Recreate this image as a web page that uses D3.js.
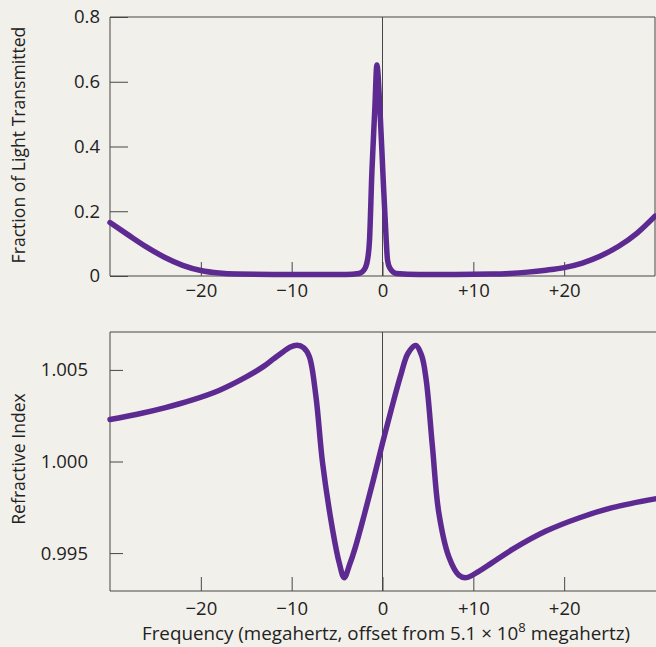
<!DOCTYPE html>
<html>
<head>
<meta charset="utf-8">
<style>
body { margin: 0; background: #f2f0ea; }
svg { display: block; }
text { font-family: "Open Sans", "Noto Sans", sans-serif; fill: #222; }
</style>
</head>
<body>
<svg width="656" height="647"></svg>
<script src="https://cdn.jsdelivr.net/npm/d3@7"></script>
<script>
// transmission (top panel)
var freq_top = [-30, -28, -26, -24, -22, -20, -18, -16, -12, -8, -4, -2.6, -2.0, -1.65, -1.43, -1.17, -0.84, -0.62, -0.29, 0.04, 0.41, 0.55, 0.8, 1.5, 4, 8, 12, 14, 16, 18, 20, 22, 24, 26, 28, 30];
var trans = [0.165, 0.127, 0.090, 0.058, 0.033, 0.017, 0.009, 0.006, 0.005, 0.005, 0.005, 0.008, 0.02, 0.05, 0.11, 0.32, 0.52, 0.652, 0.52, 0.32, 0.11, 0.05, 0.025, 0.008, 0.005, 0.005, 0.006, 0.008, 0.012, 0.018, 0.026, 0.040, 0.062, 0.092, 0.132, 0.185];

// refractive index (bottom panel)
var freq_bottom = [-30, -27, -24, -21, -18, -15, -13, -12, -11, -10.2, -9.4, -8.7, -8.07, -7.33, -6.6, -5.5, -4.77, -4.22, -3.6, -3, -2, -1, 0, 1, 2, 2.8, 3.67, 4.3, 4.8, 5.5, 6.2, 7.3, 8.4, 9.2, 10.6, 12, 14.3, 18, 21.7, 25.3, 30];
var index = [1.00229, 1.00258, 1.00293, 1.00335, 1.00388, 1.00462, 1.00522, 1.00560, 1.00597, 1.00624, 1.00635, 1.00622, 1.00575, 1.00356, 0.99993, 0.99629, 0.99448, 0.99366, 0.9944, 0.9953, 0.9971, 0.9990, 1.0010, 1.0029, 1.0047, 1.0059, 1.00633, 1.0058, 1.0045, 1.0008, 0.9972, 0.9948, 0.9938, 0.99366, 0.9940, 0.99445, 0.9952, 0.9962, 0.99693, 0.99748, 0.99796];

var x_ticks = [-20, -10, 0, 10, 20];
var x_tick_labels = ["\u221220", "\u221210", "0", "+10", "+20"];
var top_ticks = [0, 0.2, 0.4, 0.6, 0.8];
var top_tick_labels = ["0", "0.2", "0.4", "0.6", "0.8"];
var bottom_ticks = [0.995, 1.000, 1.005];
var bottom_tick_labels = ["0.995", "1.000", "1.005"];

var svg = d3.select("svg");
var line_color = "#5d2a92";
var frame_color = "#474747";

var x = d3.scaleLinear().domain([-30, 30]).range([110, 655]);
var y_top = d3.scaleLinear().domain([0, 0.8]).range([276, 17]);
var y_bottom = d3.scaleLinear().domain([0.99293, 1.00707]).range([591, 332]);

function panel(y, ticks, labels, ytick_len, ypad, xpad, right, fx, fy, curve, title, title_y) {
	var top = y.range()[1], bottom = y.range()[0];

	// frame
	svg.append("path")
	  .attr("d", "M" + right + "," + top + "H110V" + bottom + "H" + right + (right < 656 ? "V" + top : ""))
	  .attr("fill", "none")
	  .attr("stroke", frame_color)
	  .attr("stroke-width", 1);

	// zero line
	svg.append("line")
	  .attr("x1", x(0)).attr("x2", x(0))
	  .attr("y1", top).attr("y2", bottom)
	  .attr("stroke", frame_color)
	  .attr("stroke-width", 1);

	var ya = svg.append("g")
	  .attr("transform", "translate(110,0)")
	  .call(d3.axisLeft(y).tickValues(ticks).tickSizeInner(-ytick_len).tickSizeOuter(0).tickPadding(ypad)
	    .tickFormat(function(d, i) { return labels[i]; }));
	ya.select(".domain").remove();
	ya.selectAll("line").attr("stroke", frame_color);
	ya.selectAll("text").attr("font-size", 18.5).attr("fill", "#222");

	var xa = svg.append("g")
	  .attr("transform", "translate(0," + bottom + ")")
	  .call(d3.axisBottom(x).tickValues(x_ticks).tickSizeInner(-14).tickSizeOuter(0).tickPadding(xpad)
	    .tickFormat(function(d, i) { return x_tick_labels[i]; }));
	xa.select(".domain").remove();
	xa.selectAll("line").attr("stroke", frame_color);
	xa.selectAll("text").attr("font-size", 18.5).attr("fill", "#222");

	svg.append("text")
	  .attr("transform", "translate(25," + title_y + ") rotate(-90)")
	  .attr("text-anchor", "middle")
	  .attr("font-size", 17.6)
	  .text(title);

	var line = d3.line()
	  .x(function(d, i) { return x(fx[i]); })
	  .y(function(d, i) { return y(fy[i]); })
	  .curve(curve);

	svg.append("path")
	  .datum(fx)
	  .attr("d", line)
	  .attr("fill", "none")
	  .attr("stroke", line_color)
	  .attr("stroke-width", 5.5)
	  .attr("stroke-linejoin", "round")
	  .attr("stroke-linecap", "round");
}

panel(y_top, top_ticks, top_tick_labels, 18, 10, 8, 655, freq_top, trans, d3.curveMonotoneX, "Fraction of Light Transmitted", 145);
panel(y_bottom, bottom_ticks, bottom_tick_labels, 13, 22, 11, 660, freq_bottom, index, d3.curveCatmullRom.alpha(0.5), "Refractive Index", 459);

var xt = svg.append("text")
  .attr("x", 386)
  .attr("y", 640)
  .attr("text-anchor", "middle")
  .attr("font-size", 18.8);
xt.append("tspan").text("Frequency (megahertz, offset from 5.1 \u00d7 10");
xt.append("tspan").attr("font-size", 13).attr("dy", -8).text("8");
xt.append("tspan").attr("dy", 8).text(" megahertz)");
</script>
</body>
</html>
